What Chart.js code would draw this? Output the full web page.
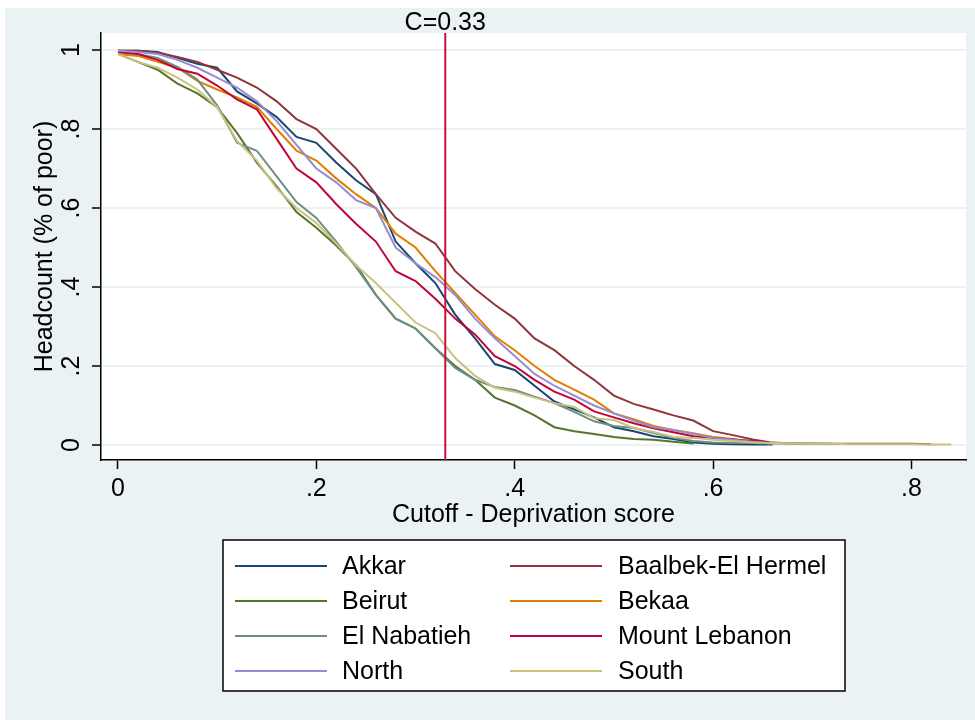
<!DOCTYPE html>
<html>
<head>
<meta charset="utf-8">
<script src="https://cdn.jsdelivr.net/npm/chart.js@4/dist/chart.umd.min.js"></script>
<style>
html,body{margin:0;padding:0;background:#fff;}
#wrap{width:975px;height:720px;}
</style>
</head>
<body>
<div id="wrap"><canvas id="c" width="975" height="720"></canvas></div>
<script>
// ---------- data ----------
const cutoffs = [0,0.02,0.04,0.06,0.08,0.10,0.12,0.14,0.16,0.18,0.20,0.22,0.24,0.26,0.28,0.30,0.32,0.34,0.36,0.38,0.40,0.42,0.44,0.46,0.48,0.50,0.52,0.54,0.56,0.58,0.60,0.62,0.64,0.66,0.68,0.70,0.72,0.74,0.76,0.78,0.80,0.82,0.84];

const regions = ["Akkar","Baalbek-El Hermel","Beirut","Bekaa","El Nabatieh","Mount Lebanon","North","South"];

const akkar = [0.998,0.998,0.995,0.98,0.965,0.955,0.895,0.865,0.83,0.78,0.765,0.715,0.67,0.635,0.515,0.46,0.41,0.33,0.27,0.205,0.19,0.15,0.11,0.09,0.07,0.045,0.035,0.022,0.015,0.006,0.003,0.002,0.001,0.001,null,null,null,null,null,null,null,null,null];
const baalbek = [0.998,0.998,0.993,0.982,0.97,0.95,0.93,0.905,0.87,0.825,0.80,0.75,0.70,0.635,0.575,0.54,0.51,0.44,0.395,0.355,0.32,0.27,0.24,0.20,0.165,0.125,0.104,0.09,0.075,0.062,0.035,0.025,0.014,0.006,0.004,0.004,0.003,0.003,0.003,0.003,0.003,0.002,null];
const beirut = [0.99,0.97,0.95,0.915,0.89,0.855,0.79,0.715,0.655,0.59,0.55,0.505,0.455,0.38,0.32,0.295,0.245,0.20,0.165,0.12,0.10,0.075,0.045,0.035,0.028,0.02,0.015,0.013,0.008,0.004,null,null,null,null,null,null,null,null,null,null,null,null,null];
const bekaa = [0.99,0.985,0.97,0.955,0.922,0.90,0.88,0.856,0.80,0.745,0.72,0.675,0.635,0.60,0.535,0.50,0.44,0.385,0.33,0.275,0.24,0.20,0.165,0.14,0.115,0.08,0.065,0.048,0.038,0.03,0.02,0.015,0.008,0.003,null,null,null,null,null,null,null,null,null];
const nabatieh = [0.995,0.99,0.98,0.957,0.925,0.86,0.765,0.745,0.68,0.615,0.575,0.515,0.45,0.38,0.32,0.295,0.245,0.195,0.165,0.147,0.139,0.122,0.106,0.084,0.06,0.048,0.043,0.03,0.018,0.01,0.006,0.005,0.005,0.004,0.004,0.003,0.003,null,null,null,null,null,null];
const mountLebanon = [0.995,0.99,0.975,0.952,0.94,0.91,0.875,0.85,0.775,0.70,0.665,0.61,0.56,0.515,0.44,0.415,0.37,0.32,0.28,0.225,0.20,0.165,0.135,0.115,0.085,0.07,0.055,0.042,0.032,0.022,0.018,0.014,0.01,0.004,null,null,null,null,null,null,null,null,null];
const north = [0.998,0.995,0.99,0.975,0.955,0.93,0.905,0.87,0.82,0.76,0.70,0.665,0.62,0.60,0.50,0.46,0.425,0.38,0.32,0.27,0.225,0.18,0.15,0.125,0.10,0.08,0.062,0.045,0.038,0.028,0.018,0.013,0.008,0.004,null,null,null,null,null,null,null,null,null];
const south = [0.99,0.97,0.955,0.93,0.90,0.855,0.77,0.72,0.65,0.60,0.562,0.51,0.455,0.41,0.36,0.31,0.283,0.22,0.175,0.145,0.135,0.12,0.106,0.096,0.068,0.063,0.043,0.033,0.02,0.018,0.013,0.01,0.006,0.005,0.004,0.003,0.003,0.002,0.002,0.002,0.002,0.001,0.001];

const seriesValues = [akkar, baalbek, beirut, bekaa, nabatieh, mountLebanon, north, south];
const colors = ["#1A476F","#90353B","#55752F","#E37E00","#6E8E84","#C10534","#938DD2","#CAC27E"];

const cutoffLine = 0.33;
const cutoffLabel = "C=0.33";

const xTicks = [0,0.2,0.4,0.6,0.8];
const xTickLabels = ["0",".2",".4",".6",".8"];
const yTicks = [0,0.2,0.4,0.6,0.8,1];
const yTickLabels = ["0",".2",".4",".6",".8","1"];

// ---------- chart ----------
const FONT = "'Liberation Sans', Arial, sans-serif";
const FS = 25;
Chart.defaults.font.family = FONT;
Chart.defaults.color = "#000";

const datasets = seriesValues.map((vals, i) => ({
  label: regions[i],
  data: cutoffs.map((x, j) => ({x: x, y: vals[j]})),
  borderColor: colors[i],
  backgroundColor: colors[i],
  borderWidth: 2,
  pointRadius: 0,
  tension: 0,
  spanGaps: false,
  order: 20 - i
}));
datasets.push({
  label: "cutoff",
  data: [{x: cutoffLine, y: -0.04}, {x: cutoffLine, y: 1.05}],
  borderColor: "#C8103E",
  borderWidth: 2,
  pointRadius: 0,
  order: 0
});

const bgPlugin = {
  id: "bg",
  beforeDraw(chart) {
    const ctx = chart.ctx, a = chart.chartArea;
    ctx.save();
    ctx.fillStyle = "#ffffff";
    ctx.fillRect(0, 0, chart.width, chart.height);
    ctx.fillStyle = "#EAF2F3";
    ctx.fillRect(5, 8, chart.width - 5, chart.height - 8);
    ctx.fillStyle = "#ffffff";
    ctx.fillRect(a.left, a.top, a.right - a.left, a.bottom - a.top);
    ctx.restore();
  }
};

const labelPlugin = {
  id: "cutLabel",
  afterDraw(chart) {
    const ctx = chart.ctx;
    const xs = chart.scales.x;
    const px = xs.getPixelForValue(cutoffLine);
    ctx.save();
    ctx.font = FS + "px " + FONT;
    ctx.fillStyle = "#000";
    ctx.textAlign = "center";
    ctx.textBaseline = "middle";
    ctx.fillText(cutoffLabel, px, 23);

    // legend box
    const bx = 223, by = 540, bw = 622, bh = 151;
    ctx.fillStyle = "#ffffff";
    ctx.fillRect(bx, by, bw, bh);
    ctx.strokeStyle = "#000";
    ctx.lineWidth = 1.5;
    ctx.strokeRect(bx, by, bw, bh);
    const rowY = [566, 601, 636, 671];
    const colLine = [[235, 327], [510, 602]];
    const colText = [342, 618];
    ctx.textAlign = "left";
    ctx.textBaseline = "middle";
    chart.data.datasets.slice(0, regions.length).forEach((ds, i) => {
      const r = Math.floor(i / 2), c = i % 2;
      const y = rowY[r];
      ctx.strokeStyle = ds.borderColor;
      ctx.lineWidth = 2;
      ctx.beginPath();
      ctx.moveTo(colLine[c][0], y);
      ctx.lineTo(colLine[c][1], y);
      ctx.stroke();
      ctx.fillStyle = "#000";
      ctx.fillText(ds.label, colText[c], y + 1);
    });
    ctx.restore();
  }
};

new Chart(document.getElementById("c"), {
  type: "line",
  data: { datasets: datasets },
  plugins: [bgPlugin, labelPlugin],
  options: {
    responsive: false,
    animation: false,
    events: [],
    layout: { padding: { left: 0, top: 33, right: 9, bottom: 0 } },
    plugins: { legend: { display: false }, tooltip: { enabled: false } },
    scales: {
      x: {
        type: "linear",
        min: -0.0171,
        max: 0.855,
        afterFit(s) { s.height = 260; },
        afterBuildTicks(s) { s.ticks = xTicks.map(v => ({value: v})); },
        ticks: {
          font: { size: FS },
          padding: 5,
          maxRotation: 0,
          autoSkip: false,
          callback(v) { const k = xTicks.findIndex(t => Math.abs(t - v) < 1e-9); return k >= 0 ? xTickLabels[k] : ""; }
        },
        grid: { drawOnChartArea: false, drawTicks: true, tickLength: 9, tickColor: "#000", tickWidth: 1.5 },
        border: { color: "#000", width: 1.5 },
        title: { display: true, text: "Cutoff - Deprivation score", font: { size: FS }, padding: { top: 0, bottom: 190 } }
      },
      y: {
        type: "linear",
        min: -0.038,
        max: 1.043,
        afterFit(s) { s.width = 101; },
        afterBuildTicks(s) { s.ticks = yTicks.map(v => ({value: v})); },
        ticks: {
          font: { size: FS },
          padding: 9,
          minRotation: 90,
          maxRotation: 90,
          crossAlign: "center",
          autoSkip: false,
          callback(v) { const k = yTicks.findIndex(t => Math.abs(t - v) < 1e-9); return k >= 0 ? yTickLabels[k] : ""; }
        },
        grid: { color: "#EAF2F3", lineWidth: 2, drawTicks: true, tickLength: 9, tickColor: "#000", tickWidth: 1.5 },
        border: { color: "#000", width: 1.5 },
        title: { display: true, text: "Headcount (% of poor)", font: { size: FS }, padding: { top: 30, bottom: 0 } }
      }
    }
  }
});
</script>
</body>
</html>
